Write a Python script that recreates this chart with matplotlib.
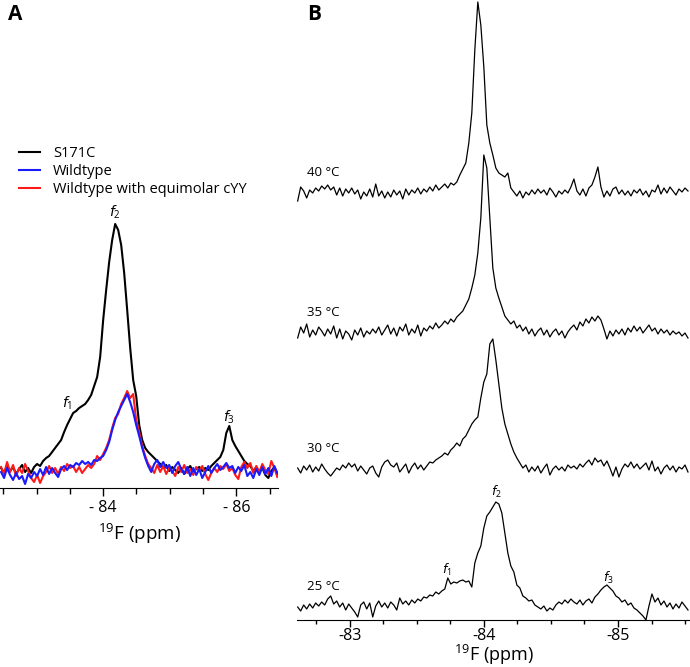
import numpy as np
import matplotlib
matplotlib.use("Agg")
import matplotlib.pyplot as plt
from matplotlib.ticker import MultipleLocator, FuncFormatter

plt.rcParams['font.family'] = ['Open Sans', 'DejaVu Sans']
plt.rcParams['axes.unicode_minus'] = False
plt.rcParams['mathtext.default'] = 'regular'

# ---- panel A: 19F spectra, heights above baseline (a.u.) ----
ppm_a_left, ppm_a_right = -82.466, -86.617

s171c = [2, -3, 4, -1, 3, -4, 1, 5, -2, 2, -3, 3, 6, 4, 9, 12, 14, 18, 22, 26,
         30, 38, 45, 51, 57, 59, 62, 64, 66, 70, 75, 84, 93, 113, 150, 180, 208, 230, 246, 240,
         225, 197, 160, 122, 90, 74, 45, 30, 22, 18, 15, 12, 9, 6, 2, 5, -1, 3, 0, -3,
         2, -4, 1, 4, -2, 1, 3, -1, 2, 0, 4, 7, 10, 13, 20, 37, 44, 30, 24, 19,
         14, 9, 6, 4, -1, 3, -2, 2, -5, -8, -1, 3, -4]

wildtype = [-2, -8, 2, -5, -10, -3, -9, -6, -14, -4, -8, -2, -6, 1, -5, 3, -4, 2, -3, -7,
            1, 4, 0, 5, 3, 7, 5, 9, 6, 8, 5, 10, 9, 12, 14, 20, 28, 40, 50, 58,
            64, 70, 76, 68, 58, 45, 34, 22, 12, 4, -2, 6, 10, 3, 8, 2, 5, -3, 4, 8,
            1, -4, 3, -6, 2, -5, 1, -8, -2, 4, -3, 2, 6, 0, 3, 7, 2, 4, -3, 3,
            -1, 5, -6, -2, -8, 1, -5, 3, -4, 2, -6, 4, -3]

wildtype_cyy = [3, -4, 8, -2, 5, -6, 2, -3, 6, -1, -8, -12, -5, -13, -6, -2, 4, -3, 2, -4,
                3, -1, 6, 2, 4, -2, 3, -3, 1, 5, 2, 6, 14, 10, 16, 22, 30, 42, 52, 56,
                66, 72, 79, 72, 76, 50, 38, 24, 14, 6, 2, -3, 5, -2, 4, -4, 2, -1, -6, 3,
                -2, 5, -3, 1, -5, 3, -1, 4, -4, -10, -3, 2, -2, 4, 1, 6, -1, 2, -5, -9,
                3, 8, 2, 7, -3, 4, -2, 6, 0, -4, 9, 2, -7]

# ---- panel B: S171C at four temperatures, heights above each baseline ----
ppm_b_left, ppm_b_right = -82.612, -85.522
temps = ['40 °C', '35 °C', '30 °C', '25 °C']
offsets = [427, 287, 150, 12]

t40 = [-8, 6, 2, -5, 3, 0, 5, 2, 7, 4, 8, 3, 6, -2, 5, -3, 4, 0, 5, -1,
       3, -6, 1, -3, 4, -4, 9, -3, 2, -5, 1, -4, 3, -2, 2, -6, 4, -2, 3, 0,
       5, -1, 4, 1, 6, 2, 8, 3, 6, 9, 5, 10, 8, 11, 18, 24, 30, 50, 80, 143,
       191, 168, 126, 68, 50, 38, 25, 20, 18, 16, 20, 5, 1, -3, 2, -5, 1, -2, 3, -1,
       4, 0, 3, -2, 5, 1, -4, 2, -1, 3, 0, 6, 14, 2, -2, 4, -3, 5, 8, 16,
       26, 6, -4, 2, -3, 4, 6, -1, 3, -2, 2, -3, 3, 0, 4, -2, 2, -4, 3, 1,
       8, -1, 5, 0, 6, 2, -2, 4, 1, 5, 2]

t35 = [-5, 6, 0, 9, -4, 3, -2, 6, 2, -3, 4, -1, 7, -5, 4, -6, 2, -1, -7, 3,
       -2, 5, -4, 2, -1, 4, 0, 6, -2, 3, 8, -1, 5, -3, 6, 2, 9, -2, 4, 0,
       8, -3, 5, 2, 7, 4, 10, 5, 8, 12, 9, 14, 11, 16, 19, 22, 28, 34, 45, 58,
       80, 115, 178, 165, 115, 65, 45, 35, 26, 17, 13, 9, 12, 5, 8, 2, 6, -1, 4, -3,
       2, 5, -2, 3, -4, 1, 4, -2, 2, -5, 1, 5, 8, 3, 11, 7, 14, 10, 16, 12,
       17, 13, 4, -6, 2, -3, 3, -1, 4, -2, 5, 1, 7, 2, 6, 0, 4, 8, 2, 5,
       -1, 4, 0, 3, -2, 2, -1, 1, -3, 0, -5]

t30 = [2, -3, 4, 0, 5, -2, 3, -1, 6, 1, -3, -6, -2, 2, 0, 5, 2, 7, 3, 6,
       -1, 4, 0, -4, 2, 4, -3, -7, 3, 8, 10, 5, 3, 7, -2, 2, 6, -3, 3, 7,
       1, 5, 0, 4, 8, 7, 10, 12, 14, 17, 15, 20, 23, 27, 24, 31, 34, 40, 46, 50,
       53, 72, 88, 96, 126, 131, 110, 86, 62, 46, 36, 26, 18, 12, 7, 2, 5, -2, 3, -1,
       4, -3, 2, 6, -5, 1, 4, 0, 3, -1, 5, 2, 4, 1, 6, 3, 7, 10, 5, 12,
       8, 10, 4, 9, 2, -6, 3, -7, 1, 6, 3, 8, 2, 6, 1, 4, 7, 0, 9, -1,
       3, -4, 2, 5, 0, 4, -2, 3, 1, 5, -2]

t25 = [1, -3, 3, -1, 4, 0, 5, 2, 6, 3, 9, 12, 4, 7, 1, 5, -2, 4, 0, -4,
       -9, 3, 6, -1, 5, -9, 2, 7, 1, 5, 0, 6, 3, -2, 10, 4, 7, 3, 8, 5,
       9, 7, 11, 10, 13, 12, 16, 14, 17, 19, 30, 24, 26, 25, 27, 28, 26, 27, 21, 45,
       55, 62, 80, 92, 96, 101, 106, 104, 95, 75, 55, 42, 36, 23, 20, 12, 10, 7, 8, 3,
       1, -1, 2, -3, 0, -2, 3, 6, 4, 8, 5, 9, 6, 4, 8, 3, 7, 9, 5, 11,
       14, 18, 21, 23, 20, 17, 12, 10, 6, 8, 3, 5, 0, -2, -5, -8, -12, 2, 14, 6,
       10, 3, 7, 1, 5, -1, 4, 0, 6, 2, -2]

traces_b = [t40, t35, t30, t25]

fig = plt.figure(figsize=(6.9, 6.67), dpi=100)

# ---------------- panel A ----------------
ax_a = fig.add_axes([0.0, 179 / 667, 278 / 690, 488 / 667])
series_a = [(s171c, 'black', 'S171C'),
            (wildtype_cyy, '#ff1a1a', 'Wildtype with equimolar cYY'),
            (wildtype, '#1a1aff', 'Wildtype')]
handles = {}
for vals, col, lab in series_a:
    x = np.linspace(ppm_a_left, ppm_a_right, len(vals))
    ln, = ax_a.plot(x, vals, color=col, lw=1.5, label=lab, solid_joinstyle='round')
    handles[lab] = ln

ax_a.set_xlim(ppm_a_left + 0.016, ppm_a_right - 0.01)
ax_a.set_ylim(-18, 470)
for s in ['top', 'left', 'right']:
    ax_a.spines[s].set_visible(False)
ax_a.set_yticks([])
ax_a.xaxis.set_major_locator(MultipleLocator(2))
ax_a.xaxis.set_minor_locator(MultipleLocator(0.5))
ax_a.xaxis.set_major_formatter(FuncFormatter(lambda v, p: f'- {abs(v):.0f}'))
ax_a.tick_params(axis='x', which='major', length=6, width=1, labelsize=11.5, pad=3)
ax_a.tick_params(axis='x', which='minor', length=4, width=1)
ax_a.set_xlabel('$^{19}$F (ppm)', fontsize=13.5, labelpad=4)

ax_a.text(-84.18, 258, r'$\mathit{f}_2$', ha='center', va='center', fontsize=10)
ax_a.text(-83.46, 67, r'$\mathit{f}_1$', ha='center', va='center', fontsize=10)
ax_a.text(-85.895, 53, r'$\mathit{f}_3$', ha='center', va='center', fontsize=10)

leg = ax_a.legend([handles['S171C'], handles['Wildtype'], handles['Wildtype with equimolar cYY']],
                  ['S171C', 'Wildtype', 'Wildtype with equimolar cYY'],
                  loc='upper left', bbox_to_anchor=(12 / 690, 1 - 139 / 667),
                  bbox_transform=fig.transFigure, frameon=False, fontsize=10.5,
                  handlelength=1.4, handletextpad=0.9, labelspacing=0.2, borderpad=0)

fig.text(8 / 690, 1 - 15 / 667, 'A', fontsize=15, fontweight='bold', va='center', ha='left')

# ---------------- panel B ----------------
ax_b = fig.add_axes([297 / 690, 47 / 667, 393 / 690, 620 / 667])
for vals, off, lab in zip(traces_b, offsets, temps):
    x = np.linspace(ppm_b_left, ppm_b_right, len(vals))
    ax_b.plot(x, np.array(vals) + off, color='black', lw=0.9)
    ax_b.text(-82.68, off + 21, lab, ha='left', va='center', fontsize=9.5)

ax_b.set_xlim(ppm_b_left + 0.005, ppm_b_right - 0.015)
ax_b.set_ylim(0, 620)
for s in ['top', 'left', 'right']:
    ax_b.spines[s].set_visible(False)
ax_b.set_yticks([])
ax_b.xaxis.set_major_locator(MultipleLocator(1))
ax_b.xaxis.set_minor_locator(MultipleLocator(0.25))
ax_b.xaxis.set_major_formatter(FuncFormatter(lambda v, p: f'{v:.0f}'))
ax_b.tick_params(axis='x', which='major', length=5, width=1, labelsize=11.5, pad=1)
ax_b.tick_params(axis='x', which='minor', length=3, width=1)
ax_b.set_xlabel('$^{19}$F (ppm)', fontsize=13, labelpad=-1)

ax_b.text(-84.097, 120, r'$\mathit{f}_2$', ha='center', va='bottom', fontsize=9)
ax_b.text(-83.724, 50, r'$\mathit{f}_1$', ha='center', va='center', fontsize=9)
ax_b.text(-84.925, 42, r'$\mathit{f}_3$', ha='center', va='center', fontsize=9)

fig.text(307 / 690, 1 - 14 / 667, 'B', fontsize=15, fontweight='bold', va='center', ha='left')

fig.savefig('out.png', dpi=100)
